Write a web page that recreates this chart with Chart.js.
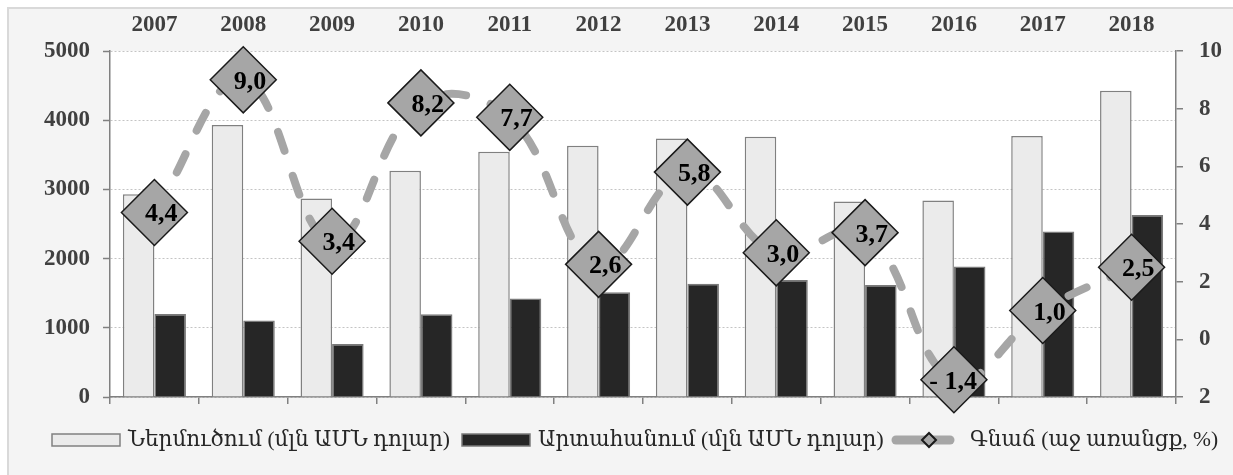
<!DOCTYPE html>
<html>
<head>
<meta charset="utf-8">
<script src="https://cdn.jsdelivr.net/npm/chart.js@4.4.1/dist/chart.umd.min.js"></script>
<style>
  html, body { margin: 0; padding: 0; background: #fff; }
  #wrap { width: 1233px; height: 475px; }
</style>
</head>
<body>
<div id="wrap"><canvas id="chart" width="1233" height="475"></canvas></div>
<script>
const years = ['2007', '2008', '2009', '2010', '2011', '2012', '2013', '2014', '2015', '2016', '2017', '2018'];
const imports = [2930, 3930, 2870, 3270, 3545, 3630, 3735, 3760, 2825, 2840, 3770, 4425];
const exports = [1200, 1105, 765, 1195, 1425, 1515, 1635, 1690, 1620, 1885, 2390, 2630];
const inflation = [4.4, 9.0, 3.4, 8.2, 7.7, 2.6, 5.8, 3.0, 3.7, -1.4, 1.0, 2.5];
const seriesNames = ['Ներմուծում (մլն ԱՄՆ դոլար)', 'Արտահանում (մլն ԱՄՆ դոլար)', 'Գնաճ (աջ առանցք, %)'];

const serif = '"Liberation Serif", "Times New Roman", "DejaVu Serif", serif';
const axisFont = { family: serif, size: 23, weight: 'bold' };

const fmt = v => (v < 0 ? '- ' : '') + Math.abs(v).toFixed(1).replace('.', ',');

// grey panel, white plot area
const panel = {
  id: 'panel',
  beforeDraw(chart) {
    const { ctx, chartArea: a, width, height } = chart;
    ctx.save();
    ctx.fillStyle = '#fff';
    ctx.fillRect(0, 0, width, height);
    ctx.fillStyle = '#f4f4f4';
    ctx.fillRect(8, 8, width - 8, height - 8);
    ctx.strokeStyle = '#d9d9d9';
    ctx.lineWidth = 2;
    ctx.beginPath();
    ctx.moveTo(8, height);
    ctx.lineTo(8, 8);
    ctx.lineTo(width, 8);
    ctx.stroke();
    ctx.fillStyle = '#fff';
    ctx.fillRect(a.left, a.top, a.right - a.left, a.bottom - a.top);
    ctx.restore();
  }
};

// values inside the diamonds
const diamondLabels = {
  id: 'diamondLabels',
  afterDatasetsDraw(chart) {
    const ctx = chart.ctx;
    const meta = chart.getDatasetMeta(2);
    ctx.save();
    ctx.font = 'bold 26px ' + serif;
    ctx.fillStyle = '#000';
    ctx.textAlign = 'right';
    ctx.textBaseline = 'alphabetic';
    meta.data.forEach((p, i) => {
      ctx.fillText(fmt(inflation[i]), p.x + 23, p.y + 9);
    });
    ctx.restore();
  }
};

// legend row at the bottom
const legendRow = {
  id: 'legendRow',
  afterDraw(chart) {
    const ctx = chart.ctx;
    const ds = chart.data.datasets;
    const y = 440;
    ctx.save();
    ctx.font = '21.5px ' + serif;
    ctx.textBaseline = 'middle';

    const box = (x, d) => {
      ctx.fillStyle = d.backgroundColor;
      ctx.fillRect(x, y - 6, 68, 12);
      ctx.strokeStyle = d.borderColor;
      ctx.lineWidth = 1.5;
      ctx.strokeRect(x, y - 6, 68, 12);
    };
    box(52, ds[0]);
    box(462, ds[1]);

    ctx.strokeStyle = ds[2].borderColor;
    ctx.lineWidth = 9;
    ctx.lineCap = 'round';
    ctx.beginPath();
    ctx.moveTo(896, y);
    ctx.lineTo(950, y);
    ctx.stroke();
    ctx.beginPath();
    ctx.moveTo(929 - 7, y);
    ctx.lineTo(929, y - 7);
    ctx.lineTo(929 + 7, y);
    ctx.lineTo(929, y + 7);
    ctx.closePath();
    ctx.fillStyle = ds[2].pointBackgroundColor;
    ctx.fill();
    ctx.strokeStyle = '#1a1a1a';
    ctx.lineWidth = 2;
    ctx.stroke();

    ctx.fillStyle = '#262626';
    ctx.fillText(ds[0].label, 128, y);
    ctx.fillText(ds[1].label, 538, y);
    ctx.fillText(ds[2].label, 970, y);
    ctx.restore();
  }
};

new Chart(document.getElementById('chart'), {
  data: {
    labels: years,
    datasets: [
      {
        type: 'bar',
        label: seriesNames[0],
        data: imports,
        backgroundColor: '#ebebeb',
        borderColor: '#808080',
        borderWidth: 1.5,
        yAxisID: 'y',
        categoryPercentage: 0.71,
        barPercentage: 1,
        order: 1
      },
      {
        type: 'bar',
        label: seriesNames[1],
        data: exports,
        backgroundColor: '#262626',
        borderColor: '#7a7a7a',
        borderWidth: 1.5,
        yAxisID: 'y',
        categoryPercentage: 0.71,
        barPercentage: 1,
        order: 2
      },
      {
        type: 'line',
        label: seriesNames[2],
        data: inflation,
        yAxisID: 'y1',
        borderColor: '#a6a6a6',
        borderWidth: 8,
        borderDash: [20, 26],
        borderCapStyle: 'round',
        tension: 0.4,
        pointStyle: 'rectRot',
        pointRadius: 33,
        pointHoverRadius: 33,
        pointBackgroundColor: '#a6a6a6',
        pointBorderColor: '#1a1a1a',
        pointBorderWidth: 1.5,
        clip: false,
        order: 0
      }
    ]
  },
  options: {
    responsive: false,
    animation: false,
    layout: { padding: 0 },
    plugins: {
      legend: { display: false },
      tooltip: { enabled: false }
    },
    scales: {
      x: {
        position: 'top',
        offset: true,
        grid: { display: false, drawTicks: false },
        border: { display: false },
        ticks: { font: axisFont, color: '#404040', padding: 12, maxRotation: 0 },
        afterFit: s => { s.height = 51; }
      },
      x2: {
        type: 'category',
        position: 'bottom',
        labels: years,
        offset: true,
        grid: {
          display: true, offset: true, drawOnChartArea: false,
          drawTicks: true, tickLength: 7, color: '#808080', lineWidth: 1.5
        },
        border: { display: true, color: '#808080', width: 1.5 },
        ticks: { display: false },
        afterFit: s => { s.height = 78; }
      },
      y: {
        position: 'left',
        min: 0,
        max: 5000,
        ticks: {
          stepSize: 1000, font: axisFont, color: '#404040', padding: 13,
          callback: v => String(v)
        },
        grid: {
          color: '#c4c4c4', lineWidth: 1, tickLength: 7,
          tickColor: '#808080', tickWidth: 1.5, tickBorderDash: []
        },
        border: { color: '#808080', width: 1.5, dash: [2, 2] },
        afterFit: s => { s.width = 110; }
      },
      y1: {
        position: 'right',
        min: -2,
        max: 10,
        ticks: {
          stepSize: 2, font: axisFont, color: '#404040', padding: 16,
          callback: v => String(Math.abs(v))
        },
        grid: { drawOnChartArea: false, tickLength: 7, color: '#808080', lineWidth: 1.5 },
        border: { color: '#808080', width: 1.5 },
        afterFit: s => { s.width = 57; }
      }
    }
  },
  plugins: [panel, diamondLabels, legendRow]
});
</script>
</body>
</html>
